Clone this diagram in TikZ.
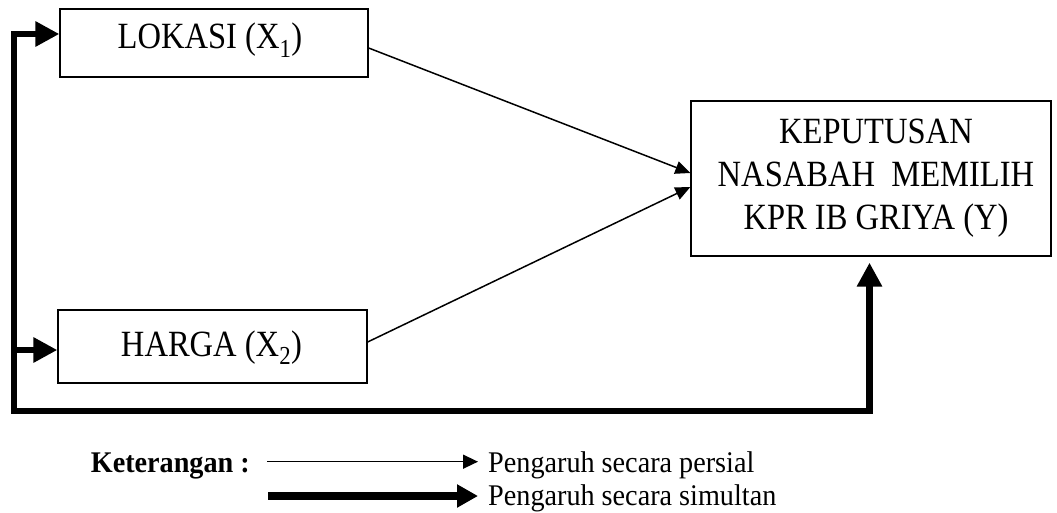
\documentclass[tikz,border=0pt]{standalone}
\usepackage{fontspec}
\setmainfont{Liberation Serif}
\newfontfamily\boxfont[FakeStretch=0.88]{Liberation Serif}
\newfontfamily\legfont[FakeStretch=0.94]{Liberation Serif}
\usetikzlibrary{arrows.meta}
\begin{document}
\begin{tikzpicture}[x=1pt,y=-1pt,
  box/.style={draw,line width=1.3pt,inner sep=0pt},
  boxtext/.style={font=\boxfont\fontsize{37}{43}\selectfont,inner sep=0pt},
  legtext/.style={font=\legfont\fontsize{30}{34}\selectfont,inner sep=0pt},
  thinarrow/.style={line width=1.5pt,-{Triangle[length=15pt,width=13pt]}},
  thickline/.style={line width=6.5pt},
  bigtip/.tip={Triangle[length=24pt,width=24pt]}
]
\useasboundingbox (0,0) rectangle (1057,513);

% boxes
\node[box,minimum width=308pt,minimum height=68pt] (lok) at (214,43) {};
\node[box,minimum width=309pt,minimum height=73pt] (harga) at (212.5,346.5) {};
\node[box,minimum width=360pt,minimum height=155pt] (kep) at (871,178.5) {};

% box texts
\node[boxtext,anchor=base] (lokt) at (210,49) {LOKASI (X\textsubscript{1})};
\node[boxtext,anchor=base] (hargat) at (211.5,356) {HARGA (X\textsubscript{2})};
\node[boxtext,anchor=north,align=center] (kept) at (876,118.5)
  {KEPUTUSAN\\NASABAH\ \ MEMILIH\\KPR IB GRIYA (Y)};

% thin connectors
\draw[thinarrow] ([yshift=-5pt]lok.east) -- ([yshift=5.5pt]kep.west);
\draw[thinarrow] ([yshift=4.5pt]harga.east) -- ([yshift=-8.5pt]kep.west);

% thick connectors
\coordinate (tl) at (14,34);
\coordinate (hj) at (14,350);
\coordinate (bl) at (14,411);
\coordinate (br) at (869.5,411);
\coordinate (kb) at ([yshift=-6pt]kep.south -| br);
\draw[thickline,{bigtip}-{bigtip}] (lok.west |- tl) -- (tl) -- (bl) -- (br) -- (kb);
\draw[thickline,-{bigtip}] (hj) -- (harga.west |- hj);

% legend
\node[legtext,anchor=base east,font=\legfont\bfseries\fontsize{30}{34}\selectfont] (ket) at (250,472) {Keterangan :};
\coordinate (l1s) at (267,461.7);
\node[legtext,anchor=base west] (l1) at (488,472) {Pengaruh secara persial};
\draw[line width=1.5pt,-{Triangle[length=15pt,width=14pt]}] (l1s) -- ([xshift=-10pt]l1.west |- l1s);
\coordinate (l2s) at (268,496);
\node[legtext,anchor=base west] (l2) at (488,505) {Pengaruh secara simultan};
\draw[line width=8pt,-{Triangle[length=21pt,width=22pt]}] (l2s) -- ([xshift=-10pt]l2.west |- l2s);
\end{tikzpicture}
\end{document}
